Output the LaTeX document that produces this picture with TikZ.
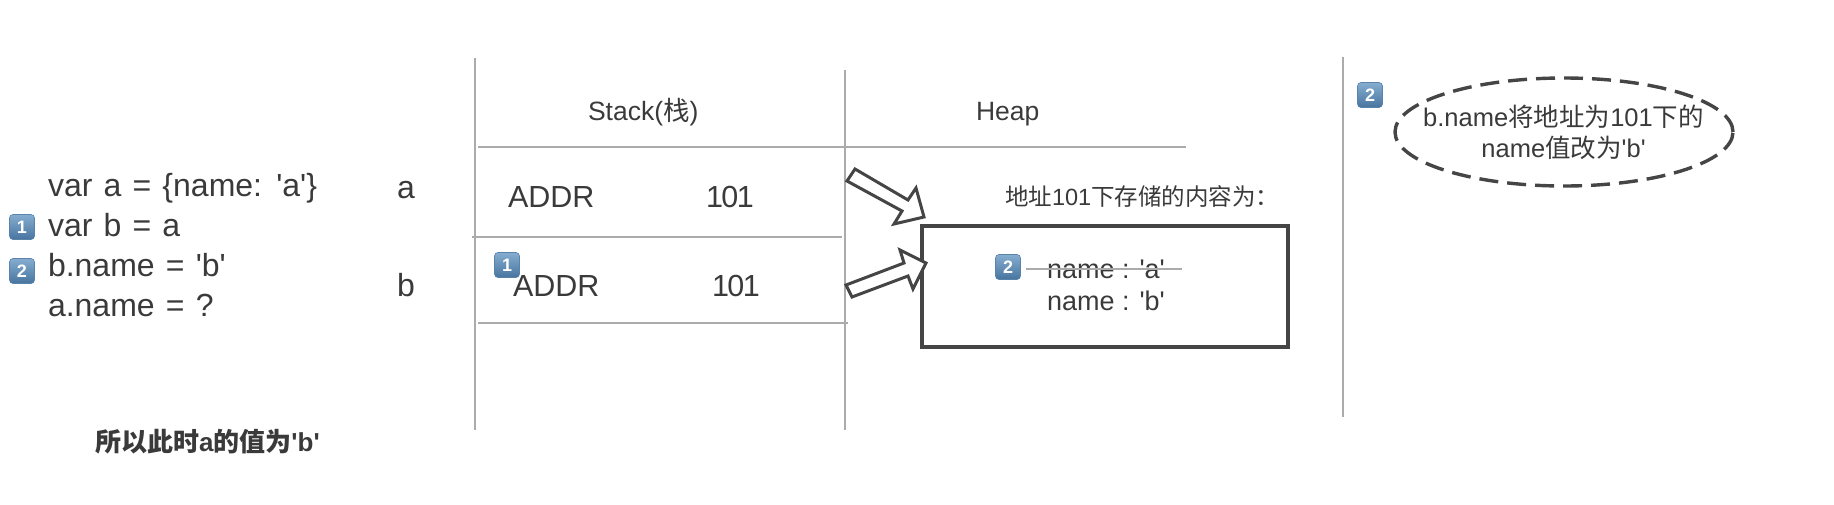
\documentclass[tikz,border=0pt]{standalone}
\usepackage{fontspec}
\usetikzlibrary{shapes.geometric}
\setmainfont{Liberation Sans}
\newfontfamily\cjk{Noto Sans CJK SC}
\newcommand{\fsz}[1]{\fontsize{#1}{#1}\selectfont}
\newcommand{\sq}{\textquotesingle}
\newcommand{\widesp}{\spaceskip=11.2pt\relax}
\newcommand{\addrnum}{1\kern-1.6pt 0\kern-1.6pt 1}
\definecolor{ink}{HTML}{3A3A3A}
\definecolor{rule}{HTML}{ABABAB}
\definecolor{dark}{HTML}{454545}
\definecolor{badgetop}{HTML}{86ADD0}
\definecolor{badgebot}{HTML}{47749F}
\definecolor{badgeedge}{HTML}{5A83AA}
\tikzset{
  lbl/.style={anchor=base west,inner sep=0pt,outer sep=0pt,text=ink},
  code/.style={lbl,font=\fsz{32}},
  cell/.style={lbl,font=\fsz{30.5}},
  head/.style={lbl,font=\fsz{26.5}},
  rowlabel/.style={lbl,font=\fsz{32}},
  note/.style={anchor=base,inner sep=0pt,outer sep=0pt,text=ink,font=\fsz{25.5}},
  guide/.style={draw=rule,line width=2.6pt},
  blockarrow/.style={draw=dark,line width=3pt,fill=white,line join=miter},
  badge/.style={rectangle,rounded corners=3.5pt,minimum width=25pt,minimum height=25pt,inner sep=0pt,
    top color=badgetop,bottom color=badgebot,draw=badgeedge,line width=.6pt,text=white,font=\fsz{18}\bfseries}
}
\begin{document}
\begin{tikzpicture}[x=1pt,y=-1pt]
\useasboundingbox (0,0) rectangle (1834,504);
% code
\node[code] (l1) at (48,196) {\widesp var a = \{name: \sq a\sq\}};
\node[code] (l2) at (48,236) {\widesp var b = a};
\node[code] (l3) at (48,276) {\widesp b.name = \sq b\sq};
\node[code] (l4) at (48,316) {\widesp a.name = ?};
\node[badge] (b1) at (22,227) {1};
\node[badge] (b2) at (22,271) {2};
\node[rowlabel] (va) at (397,198) {a};
\node[rowlabel] (vb) at (397,296) {b};
\node[lbl,font=\fsz{26}\bfseries] (res) at (95,451) {{\cjk 所以此时}a{\cjk 的值为}\sq b\sq};
% guides
\draw[guide] (475,58) -- (475,430);
\draw[guide] (845,70) -- (845,430);
\draw[guide] (1343,57) -- (1343,417);
\draw[guide] (478,147) -- (1186,147);
\draw[guide] (472,237) -- (842,237);
\draw[guide] (478,323) -- (848,323);
% stack and heap
\node[head] (st) at (588,120) {Stack({\cjk 栈})};
\node[head] (hp) at (976,120) {Heap};
\node[cell] (ad1) at (508,207) {ADDR};
\node[cell] (n1) at (706,207) {\addrnum};
\node[cell] (ad2) at (513,296) {ADDR};
\node[cell] (n2) at (712,296) {\addrnum};
\node[badge] (b3) at (507,265) {1};
% heap box
\node[draw=dark,line width=3.8pt,minimum width=366pt,minimum height=121pt,inner sep=0pt] (box) at (1105,286.5) {};
\draw[blockarrow] (855,169) -- (908,200) -- (916,188) -- (924,217) -- (894,224) -- (902,211) -- (847,181) -- cycle;
\draw[blockarrow] (846,285) -- (904,263) -- (900,250) -- (926,263) -- (913,289) -- (908,276) -- (852,297) -- cycle;
\node[lbl,font=\fsz{23.5}] (cap) at (1005,205) {{\cjk 地址}101{\cjk 下存储的内容为：}};
\node[lbl,font=\fsz{27}] (na) at (1047,278) {name : \sq a\sq};
\node[lbl,font=\fsz{27}] (nb) at (1047,310) {name : \sq b\sq};
\node[badge] (b4) at (1008,267) {2};
\coordinate (s1) at (1026,269);
\coordinate (s2) at (1182,269);
\draw[guide,line width=2.2pt] (s1) -- (s2);
% note
\node[badge] (b5) at (1370,95) {2};
\node[ellipse,draw=dark,line width=3.4pt,dash pattern=on 19pt off 9pt,minimum width=338pt,minimum height=108pt,inner sep=0pt] (ell) at (1564,132) {};
\node[note] (t1) at (1563.5,126) {b.name{\cjk 将地址为}101{\cjk 下的}};
\node[note] (t2) at (1563.5,157) {name{\cjk 值改为}\sq b\sq};
\end{tikzpicture}
\end{document}
